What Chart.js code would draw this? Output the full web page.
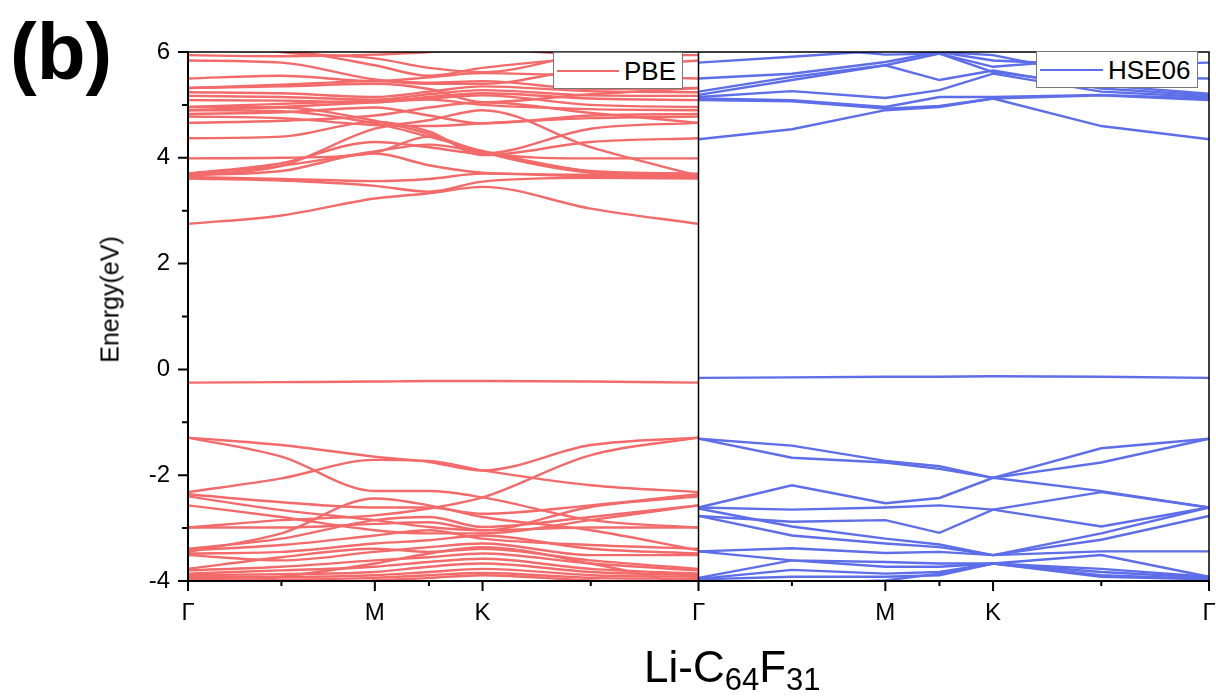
<!DOCTYPE html>
<html><head><meta charset="utf-8">
<script src="https://cdn.jsdelivr.net/npm/chart.js@4"></script>
<style>
html,body{margin:0;padding:0;background:#fff;}
#wrap{position:relative;width:1216px;height:700px;overflow:hidden;font-family:"Liberation Sans",Arial,sans-serif;}
canvas{position:absolute;left:0;top:0;}
.lbl{position:absolute;white-space:nowrap;line-height:1;color:#000;}
.legend{position:absolute;background:#fff;border:1px solid #777;box-sizing:border-box;}
.legline{position:absolute;height:2px;}
.legtxt{position:absolute;white-space:nowrap;line-height:1;font-size:26px;color:#000;}
</style></head>
<body><div id="wrap">
<canvas id="c" width="1216" height="700"></canvas>
<div class="lbl" style="left:10px;top:12px;font-size:80px;font-weight:bold;">(b)</div>
<div class="lbl" style="left:10px;top:286.5px;width:200px;text-align:center;font-size:25px;transform:rotate(-90deg);transform-origin:100px 12.5px;">Energy(eV)</div>
<div class="lbl" style="left:644px;top:645px;font-size:44px;">Li-C<span style="font-size:31px;position:relative;top:8px;">64</span>F<span style="font-size:31px;position:relative;top:8px;">31</span></div>
<div class="legend" style="left:553px;top:52px;width:130px;height:37px;">
  <div class="legline" id="l1" style="left:3px;top:17px;width:62px;"></div>
  <div class="legtxt" style="left:70px;top:5px;">PBE</div>
</div>
<div class="legend" style="left:1036px;top:51px;width:162px;height:37px;">
  <div class="legline" id="l2" style="left:3px;top:17px;width:63px;"></div>
  <div class="legtxt" style="left:71px;top:5px;">HSE06</div>
</div>
</div>
<script>
// ---- k-path (normalised path length within one panel) ----
const kpath = [0, 0.183, 0.366, 0.472, 0.577, 0.789, 1.0];
const tickPositions = [0, 0.366, 0.577, 1, 1.366, 1.577, 2];
const tickLabels = ['Γ', 'M', 'K', 'Γ', 'M', 'K', 'Γ'];
const minorTickPositions = [0.183, 0.472, 0.789, 1.183, 1.472, 1.789];
const yMin = -4, yMax = 6;
const pbeColor = '#F26A6A';
const hseColor = '#5D6EE8';

// ---- PBE bands (eV) at Γ, Γ-M, M, M-K, K, K-Γ, Γ ----
const pbeImpurity = [-0.25, -0.24, -0.23, -0.22, -0.22, -0.23, -0.25];
const pbeValence = [
  [-1.29, -1.43, -1.65, -1.75, -1.91, -1.43, -1.29],
  [-1.29, -1.65, -2.30, -2.30, -2.42, -2.85, -2.99],
  [-2.32, -2.06, -1.71, -1.73, -1.91, -2.19, -2.32],
  [-2.99, -2.85, -2.76, -2.63, -2.42, -1.62, -1.29],
  [-2.36, -2.51, -2.61, -2.61, -2.73, -2.57, -2.36],
  [-2.40, -2.66, -2.85, -2.98, -3.04, -2.60, -2.40],
  [-2.57, -2.79, -3.04, -3.10, -3.10, -2.85, -2.57],
  [-2.99, -2.99, -2.92, -2.89, -3.04, -2.99, -2.99],
  [-3.39, -3.20, -2.85, -2.79, -2.98, -2.79, -2.57],
  [-3.42, -3.32, -3.14, -3.04, -3.20, -3.32, -3.39],
  [-3.48, -3.45, -3.29, -3.23, -3.14, -3.39, -3.48],
  [-3.51, -3.61, -3.45, -3.36, -3.29, -3.51, -3.51],
  [-3.77, -3.55, -3.39, -3.45, -3.39, -3.61, -3.77],
  [-3.80, -3.73, -3.61, -3.55, -3.48, -3.67, -3.80],
  [-3.86, -3.80, -3.73, -3.64, -3.58, -3.77, -3.86],
  [-3.89, -3.87, -3.83, -3.73, -3.67, -3.83, -3.89],
  [-3.92, -3.92, -3.89, -3.83, -3.77, -3.89, -3.92],
  [-3.96, -3.97, -3.94, -3.89, -3.85, -3.94, -3.96],
  [-4.05, -4.02, -3.99, -3.94, -3.89, -3.99, -4.05],
  [-4.11, -3.92, -3.67, -3.48, -3.36, -3.67, -4.11],
  [-3.45, -3.10, -2.44, -2.57, -2.79, -3.04, -3.42]
];
const pbeConduction = [
  [2.75, 2.91, 3.23, 3.33, 3.45, 3.04, 2.75],
  [3.61, 3.57, 3.47, 3.36, 3.55, 3.62, 3.61],
  [3.64, 3.60, 3.56, 3.60, 3.70, 3.65, 3.64],
  [3.67, 3.75, 4.08, 3.86, 3.72, 3.68, 3.67],
  [3.70, 3.85, 4.12, 4.25, 4.10, 3.75, 3.70],
  [3.99, 4.00, 4.10, 4.40, 4.10, 3.99, 3.99],
  [3.66, 3.85, 4.55, 4.71, 4.90, 4.20, 3.66],
  [4.96, 4.95, 4.70, 4.45, 4.11, 3.72, 3.65],
  [4.90, 4.88, 4.65, 4.40, 4.13, 3.74, 3.63],
  [3.70, 3.90, 4.30, 4.20, 4.08, 4.55, 4.66],
  [4.37, 4.40, 4.68, 4.50, 4.05, 4.30, 4.37],
  [4.66, 4.70, 4.80, 4.95, 5.05, 4.85, 4.66],
  [4.78, 4.75, 4.62, 4.60, 4.65, 4.75, 4.78],
  [4.83, 4.86, 4.95, 4.80, 4.65, 4.80, 4.83],
  [4.90, 4.96, 5.05, 5.10, 5.00, 4.92, 4.90],
  [4.96, 5.02, 5.08, 5.12, 5.18, 5.00, 4.96],
  [5.09, 5.08, 5.05, 5.15, 5.22, 5.12, 5.09],
  [5.17, 5.15, 5.10, 5.20, 5.28, 5.18, 5.17],
  [5.24, 5.22, 5.15, 5.25, 5.35, 5.26, 5.24],
  [5.32, 5.35, 5.40, 5.30, 5.05, 5.20, 5.32],
  [5.32, 5.38, 5.45, 5.42, 5.45, 5.30, 5.32],
  [5.50, 5.55, 5.45, 5.52, 5.60, 5.55, 5.50],
  [5.84, 5.80, 5.48, 5.40, 5.40, 5.70, 5.84],
  [5.94, 5.92, 5.95, 6.00, 6.05, 5.95, 5.94],
  [6.20, 6.05, 5.75, 5.55, 5.70, 5.90, 6.10],
  [6.30, 6.00, 5.88, 5.70, 5.62, 5.98, 6.20]
];

// ---- HSE06 bands (eV) at Γ, Γ-M, M, M-K, K, K-Γ, Γ ----
const hseImpurity = [-0.16, -0.15, -0.14, -0.14, -0.13, -0.14, -0.16];
const hseValence = [
  [-1.31, -1.44, -1.73, -1.83, -2.05, -1.49, -1.31],
  [-1.31, -1.67, -1.76, -1.88, -2.05, -1.76, -1.31],
  [-2.61, -2.19, -2.53, -2.43, -2.05, -2.30, -2.61],
  [-2.61, -2.65, -2.61, -2.57, -2.65, -2.97, -2.61],
  [-2.77, -2.88, -2.85, -3.09, -2.65, -2.32, -2.61],
  [-2.63, -2.97, -3.20, -3.31, -3.51, -3.22, -2.77],
  [-2.77, -3.14, -3.29, -3.36, -3.51, -3.10, -2.61],
  [-3.44, -3.38, -3.47, -3.45, -3.51, -3.44, -3.44],
  [-3.44, -3.61, -3.64, -3.67, -3.67, -3.51, -3.92],
  [-3.94, -3.61, -3.73, -3.73, -3.67, -3.77, -3.92],
  [-3.96, -3.79, -3.86, -3.83, -3.67, -3.83, -3.94],
  [-3.97, -3.92, -3.92, -3.89, -3.67, -3.89, -3.96],
  [-4.05, -4.05, -3.99, -3.86, -3.67, -3.92, -3.97]
];
const hseConduction = [
  [4.35, 4.54, 4.90, 4.96, 5.12, 4.60, 4.35],
  [5.09, 5.07, 4.93, 4.98, 5.12, 5.18, 5.09],
  [5.12, 5.09, 4.96, 5.15, 5.15, 5.19, 5.12],
  [5.15, 5.26, 5.13, 5.28, 5.59, 5.25, 5.15],
  [5.19, 5.47, 5.75, 5.47, 5.65, 5.31, 5.18],
  [5.25, 5.53, 5.75, 5.97, 5.62, 5.37, 5.21],
  [5.50, 5.59, 5.81, 6.00, 5.94, 5.53, 5.50],
  [5.80, 5.91, 6.03, 6.00, 5.84, 5.75, 5.80],
  [6.30, 6.10, 5.95, 5.97, 5.72, 5.88, 6.15]
];

document.getElementById('l1').style.background = pbeColor;
document.getElementById('l2').style.background = hseColor;

function mk(band, offset, color, smooth) {
  return {
    data: kpath.map((k, i) => ({x: k + offset, y: band[i]})),
    borderColor: color, borderWidth: 2.4, pointRadius: 0, fill: false,
    cubicInterpolationMode: smooth ? 'monotone' : 'default', tension: 0
  };
}
const datasets = [];
[pbeImpurity, ...pbeValence, ...pbeConduction].forEach(b => datasets.push(mk(b, 0, pbeColor, true)));
[hseImpurity, ...hseValence, ...hseConduction].forEach(b => datasets.push(mk(b, 1, hseColor, false)));

const framePlugin = {
  id: 'frame',
  afterDraw(chart) {
    const {ctx, chartArea: a, scales: {x, y}} = chart;
    ctx.save();
    ctx.strokeStyle = '#000';
    ctx.lineCap = 'butt';
    ctx.lineWidth = 1.5;
    ctx.beginPath();
    ctx.moveTo(a.left, a.top); ctx.lineTo(a.right, a.top); ctx.lineTo(a.right, a.bottom);
    const xd = x.getPixelForValue(1);
    ctx.moveTo(xd, a.top); ctx.lineTo(xd, a.bottom);
    ctx.stroke();
    ctx.lineWidth = 2;
    ctx.beginPath();
    ctx.moveTo(a.left, a.top - 0.75); ctx.lineTo(a.left, a.bottom); ctx.lineTo(a.right + 0.75, a.bottom);
    ctx.stroke();
    ctx.beginPath();
    for (let v = yMin; v <= yMax; v++) {
      const py = y.getPixelForValue(v);
      const len = (v % 2 === 0) ? 10 : 6;
      ctx.moveTo(a.left - len, py); ctx.lineTo(a.left, py);
    }
    tickPositions.forEach(v => { const px = x.getPixelForValue(v); ctx.moveTo(px, a.bottom); ctx.lineTo(px, a.bottom + 10); });
    minorTickPositions.forEach(v => { const px = x.getPixelForValue(v); ctx.moveTo(px, a.bottom); ctx.lineTo(px, a.bottom + 5); });
    ctx.stroke();
    ctx.restore();
  }
};

new Chart(document.getElementById('c'), {
  type: 'line',
  data: {datasets},
  options: {
    responsive: false, animation: false, events: [],
    layout: {padding: {top: 52, right: 7, left: 0, bottom: 0}},
    plugins: {legend: {display: false}, tooltip: {enabled: false}},
    scales: {
      x: {
        type: 'linear', min: 0, max: 2,
        grid: {display: false, drawTicks: false}, border: {display: false},
        afterBuildTicks(scale) { scale.ticks = tickPositions.map(v => ({value: v})); },
        afterFit(scale) { scale.height = 119; scale.paddingLeft = 0; scale.paddingRight = 0; },
        ticks: {
          autoSkip: false, maxRotation: 0, padding: 18, color: '#000',
          font: {family: '"Liberation Sans", Arial, sans-serif', size: 24},
          callback: (v, i) => tickLabels[i]
        }
      },
      y: {
        type: 'linear', min: yMin, max: yMax,
        grid: {display: false, drawTicks: false}, border: {display: false},
        afterFit(scale) { scale.width = 188; scale.paddingTop = 0; scale.paddingBottom = 0; },
        ticks: {
          stepSize: 1, autoSkip: false, padding: 18, color: '#000',
          font: {family: '"Liberation Sans", Arial, sans-serif', size: 24},
          callback: v => (v % 2 === 0 ? String(v) : '')
        }
      }
    }
  },
  plugins: [framePlugin]
});
</script>
</body></html>
